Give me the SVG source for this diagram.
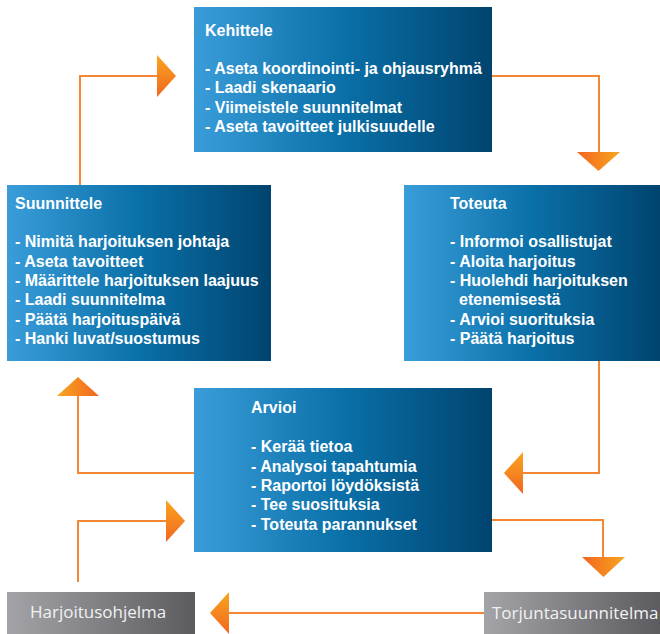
<svg xmlns="http://www.w3.org/2000/svg" width="660" height="634" viewBox="0 0 660 634">
  <defs>
    <linearGradient id="blue" x1="0" y1="0" x2="1" y2="0">
      <stop offset="0" stop-color="#3a9dda"/>
      <stop offset="0.5" stop-color="#0a70a8"/>
      <stop offset="1" stop-color="#00446f"/>
    </linearGradient>
    <linearGradient id="gray" x1="0" y1="0" x2="1" y2="0">
      <stop offset="0" stop-color="#a4a4a8"/>
      <stop offset="1" stop-color="#5c5c60"/>
    </linearGradient>
    <linearGradient id="oTB" x1="0" y1="0" x2="0" y2="1">
      <stop offset="0" stop-color="#f9a61e"/>
      <stop offset="1" stop-color="#f26522"/>
    </linearGradient>
    <linearGradient id="oBT" x1="0" y1="1" x2="0" y2="0">
      <stop offset="0" stop-color="#f9a61e"/>
      <stop offset="1" stop-color="#f26522"/>
    </linearGradient>
    <linearGradient id="oLR" x1="0" y1="0" x2="1" y2="0">
      <stop offset="0" stop-color="#f26522"/>
      <stop offset="1" stop-color="#f9a61e"/>
    </linearGradient>
    <linearGradient id="oRL" x1="1" y1="0" x2="0" y2="0">
      <stop offset="0" stop-color="#f26522"/>
      <stop offset="1" stop-color="#f9a61e"/>
    </linearGradient>
  </defs>
  <style>
    .box { fill: url(#blue); }
    .gbox { fill: url(#gray); }
    .t { font-family: "Liberation Sans", Arial, sans-serif; font-weight: bold; font-size: 16px; fill: #ffffff; }
    .g { font-family: "Open Sans", "Liberation Sans", sans-serif; font-size: 17px; fill: #f2f2f2; }
    .line { fill: none; stroke: #f58634; stroke-width: 2; }
  </style>

  <g id="connectors">
    <polyline class="line" points="80,185 80,76 158,76"/>
    <polygon points="157,55 176,76 157,97" fill="url(#oTB)"/>

    <polyline class="line" points="492,76 599,76 599,153"/>
    <polygon points="577,152 620,152 598.5,171" fill="url(#oLR)"/>

    <polyline class="line" points="599,361 599,473 522,473"/>
    <polygon points="523,452 504,473 523,494" fill="url(#oTB)"/>

    <polyline class="line" points="194,473 78,473 78,395"/>
    <polygon points="57,396 78,377 99,396" fill="url(#oRL)"/>

    <polyline class="line" points="78,582 78,521 167,521"/>
    <polygon points="166,500 185,521 166,542" fill="url(#oTB)"/>

    <polyline class="line" points="492,520 603,520 603,558"/>
    <polygon points="582,557 625,557 603.5,577" fill="url(#oLR)"/>

    <polyline class="line" points="484,613 228,613"/>
    <polygon points="229,592 210,613 229,634" fill="url(#oTB)"/>
  </g>

  <g id="kehittele">
    <rect class="box" x="194" y="7" width="298" height="145"/>
    <text class="t" x="205" y="36">Kehittele</text>
    <text class="t" x="205" y="74">- Aseta koordinointi- ja ohjausryhmä</text>
    <text class="t" x="205" y="93.3">- Laadi skenaario</text>
    <text class="t" x="205" y="112.6">- Viimeistele suunnitelmat</text>
    <text class="t" x="205" y="132">- Aseta tavoitteet julkisuudelle</text>
  </g>

  <g id="suunnittele">
    <rect class="box" x="7" y="185" width="264" height="176"/>
    <text class="t" x="15" y="209">Suunnittele</text>
    <text class="t" x="15" y="247.3">- Nimitä harjoituksen johtaja</text>
    <text class="t" x="15" y="266.6">- Aseta tavoitteet</text>
    <text class="t" x="15" y="286">- Määrittele harjoituksen laajuus</text>
    <text class="t" x="15" y="305.3">- Laadi suunnitelma</text>
    <text class="t" x="15" y="324.6">- Päätä harjoituspäivä</text>
    <text class="t" x="15" y="344">- Hanki luvat/suostumus</text>
  </g>

  <g id="toteuta">
    <rect class="box" x="404" y="185" width="256" height="176"/>
    <text class="t" x="450" y="209">Toteuta</text>
    <text class="t" x="450" y="247.3">- Informoi osallistujat</text>
    <text class="t" x="450" y="266.6">- Aloita harjoitus</text>
    <text class="t" x="450" y="286">- Huolehdi harjoituksen</text>
    <text class="t" x="459" y="305.3">etenemisestä</text>
    <text class="t" x="450" y="324.6">- Arvioi suorituksia</text>
    <text class="t" x="450" y="344">- Päätä harjoitus</text>
  </g>

  <g id="arvioi">
    <rect class="box" x="194" y="388" width="298" height="164"/>
    <text class="t" x="251" y="413">Arvioi</text>
    <text class="t" x="251" y="452.3">- Kerää tietoa</text>
    <text class="t" x="251" y="471.6">- Analysoi tapahtumia</text>
    <text class="t" x="251" y="491">- Raportoi löydöksistä</text>
    <text class="t" x="251" y="510.3">- Tee suosituksia</text>
    <text class="t" x="251" y="529.6">- Toteuta parannukset</text>
  </g>

  <g id="harjoitusohjelma">
    <rect class="gbox" x="7" y="592" width="188" height="42"/>
    <text class="g" x="30" y="618">Harjoitusohjelma</text>
  </g>

  <g id="torjuntasuunnitelma">
    <rect class="gbox" x="484" y="592" width="176" height="42"/>
    <text class="g" x="492" y="618.5">Torjuntasuunnitelma</text>
  </g>
</svg>
